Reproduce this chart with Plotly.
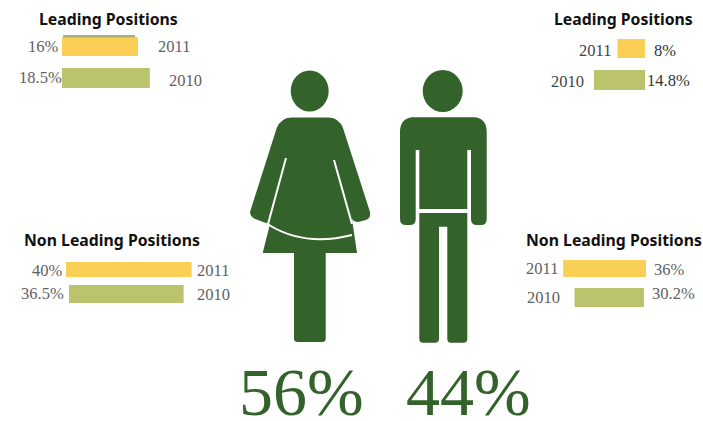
import plotly.graph_objects as go

# ---- data ----
years = ["2011", "2010"]
women_leading = [16, 18.5]
men_leading = [8, 14.8]
women_non_leading = [40, 36.5]
men_non_leading = [36, 30.2]
title_leading = "Leading Positions"
title_non_leading = "Non Leading Positions"
share_labels = ["56%", "44%"]

GREEN = "#33622a"
YEAR_COLORS = ["#f9cf55", "#bbc36c"]
W, H = 703, 421
SERIF = "Liberation Serif"

fig = go.Figure()
layout_axes = {}
annotations = []


def label(text, x, y, color="#616161", size=16.5, font=SERIF, **kw):
    annotations.append(dict(text=text, x=x, y=y, xref="x5", yref="y5", showarrow=False,
                            font=dict(family=font, size=size, color=color), **kw))


def bar_panel(n, values, anchor_px, scale, rows, spacing, heights, shifts=(0, 0), flip=False):
    """One pair of horizontal bars; x in percent, anchored at anchor_px and `scale` px per %."""
    span = 170
    left = anchor_px - span if flip else anchor_px
    right = left + span
    top = rows - spacing / 2
    bottom = rows + 1.5 * spacing
    fig.add_trace(go.Bar(
        y=years, x=values, orientation="h",
        base=[s / scale for s in shifts],
        width=[h / spacing for h in heights],
        marker=dict(color=YEAR_COLORS, line_width=0),
        xaxis=f"x{n}", yaxis=f"y{n}", showlegend=False, hoverinfo="skip",
    ))
    xrange = [span / scale, 0] if flip else [0, span / scale]
    layout_axes[f"xaxis{n}"] = dict(domain=[left / W, right / W], range=xrange, visible=False,
                                    anchor=f"y{n}", fixedrange=True)
    layout_axes[f"yaxis{n}"] = dict(domain=[1 - bottom / H, 1 - top / H], type="category",
                                    categoryorder="array", categoryarray=years,
                                    range=[1.5, -0.5], visible=False, anchor=f"x{n}", fixedrange=True)


bar_panel(1, women_leading, 62, 4.75, 46.5, 31.5, [19, 20])
bar_panel(2, men_leading, 645, 3.45, 48.5, 31.5, [19, 20], flip=True)
bar_panel(3, women_non_leading, 66, 3.14, 269.5, 24.5, [15, 18], shifts=(0, 3))
bar_panel(4, men_non_leading, 646, 2.3, 268.5, 29, [17, 19], shifts=(0, 2), flip=True)

# Overlay axis measured in page pixels, for the pictograms and the text
layout_axes["xaxis5"] = dict(domain=[0, 1], range=[0, W], visible=False, anchor="y5", fixedrange=True)
layout_axes["yaxis5"] = dict(domain=[0, 1], range=[H, 0], visible=False, anchor="x5", fixedrange=True)
fig.add_trace(go.Scatter(x=[0], y=[0], mode="markers", marker_opacity=0, xaxis="x5", yaxis="y5",
                         showlegend=False, hoverinfo="skip"))

WOMAN = ("M291,117.5 L329,117.5 Q339,118 343,128 L370,212 Q371,218 366,220 L358,222 Q354,222 352,219 "
         "L357,253 L325.7,253 L325.7,339 Q325.7,342 322,342 L298,342 Q294,342 294,339 L294,253 "
         "L262.7,253 L270,224 Q266,223 258,220 Q250,218 250,212 L276.7,128 Q281,118 291,117.5 Z")
MAN_TOP = ("M412,117.3 L475,117.3 Q486.7,119 486.7,132 L486.7,219 Q486.7,225 481,225 L477,225 "
           "Q471,225 471,219 L471,150 L467.3,150 L467.3,209 L419.3,209 L419.3,150 L415.7,150 "
           "L415.7,219 Q415.7,225 410,225 L406,225 Q400,225 400,219 L400,132 Q400,119 412,117.3 Z")
MAN_LEGS = ("M419.3,213 L467.3,213 L467.3,339 Q467.3,342.7 463.5,342.7 L451,342.7 Q447.3,342.7 447.3,339 "
            "L447.3,226.7 L439,226.7 L439,339 Q439,342.7 435,342.7 L423,342.7 Q419.3,342.7 419.3,339 Z")


def fill_path(path, color=GREEN):
    return dict(type="path", path=path, xref="x5", yref="y5", fillcolor=color, line_width=0, layer="above")


def white_line(path):
    return dict(type="path", path=path, xref="x5", yref="y5", line=dict(color="white", width=2),
                fillcolor="rgba(0,0,0,0)", layer="above")


shapes = [
    dict(type="circle", xref="x5", yref="y5", x0=290.7, x1=328.7, y0=70.5, y1=111.5,
         fillcolor=GREEN, line_width=0, layer="above"),
    dict(type="circle", xref="x5", yref="y5", x0=422.7, x1=462.7, y0=70, y1=112,
         fillcolor=GREEN, line_width=0, layer="above"),
    fill_path(WOMAN),
    fill_path(MAN_TOP),
    fill_path(MAN_LEGS),
    white_line("M286,158 L268,224"),
    white_line("M334,160 L352,224"),
    white_line("M269,225 Q305,247 352,235"),
    # thin sliver of the older bar showing above the 2011 bar
    dict(type="rect", xref="x5", yref="y5", x0=63, x1=135, y0=35, y1=37.5,
         fillcolor="#a9b279", line_width=0, layer="below"),
]

# Panel headings
for text, x, y in [(title_leading, 108, 19), (title_leading, 623, 19),
                   (title_non_leading, 112, 240), (title_non_leading, 613.5, 240)]:
    annotations.append(dict(text=f"<b>{text}</b>", x=x, y=y, xref="x5", yref="y5", showarrow=False,
                            font=dict(family="Noto Sans", size=15.8, color="#111111")))

# Value and year labels around the bars
label(f"{women_leading[0]}%", 43, 46)
label(f"{women_leading[1]}%", 40, 77)
label(years[0], 174, 46)
label(years[1], 185, 80)
label(years[0], 595, 50, "#444444")
label(f"{men_leading[0]}%", 665, 50, "#333333")
label(years[1], 567, 81, "#444444")
label(f"{men_leading[1]}%", 668, 80, "#333333")
label(f"{women_non_leading[0]}%", 47, 270)
label(f"{women_non_leading[1]}%", 42, 293)
label(years[0], 213, 270)
label(years[1], 213, 294)
label(years[0], 542, 268)
label(f"{men_non_leading[0]}%", 669, 269)
label(years[1], 543, 297)
label(f"{men_non_leading[1]}%", 673, 293)

# Overall shares under the figures
label(share_labels[0], 301, 392, GREEN, 68)
label(share_labels[1], 468, 392, GREEN, 68)

fig.update_layout(
    width=W, height=H, margin=dict(l=0, r=0, t=0, b=0),
    paper_bgcolor="white", plot_bgcolor="rgba(0,0,0,0)",
    showlegend=False, shapes=shapes, annotations=annotations, **layout_axes,
)
fig.write_html("out.html", config=dict(displayModeBar=False))
